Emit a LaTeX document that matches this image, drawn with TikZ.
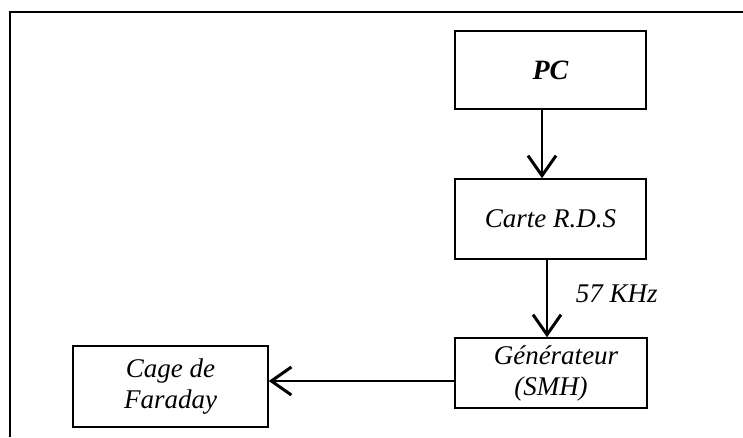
\documentclass[tikz,border=0pt]{standalone}
\usepackage{fontspec}
\setmainfont{Liberation Serif}
\usetikzlibrary{arrows.meta}
\begin{document}
\begin{tikzpicture}[x=1pt,y=-1pt,
  blk/.style={draw,line width=1.5pt,minimum width=191pt,align=center,font=\fontsize{27}{31}\selectfont\itshape,inner sep=0pt},
  conn/.style={line width=1.1pt,-{Straight Barb[length=20pt,width=28pt,line width=3pt]}}]
\useasboundingbox (0,0) rectangle (743,437);
\draw[line width=1.5pt] (10,437) -- (10,12) -- (743,12);
\node[blk,minimum height=78pt,font=\fontsize{28}{31}\selectfont\itshape\bfseries] (pc) at (550.5,70) {PC};
\node[blk,minimum height=80pt] (rds) at (550.5,219) {Carte R.D.S};
\node[blk,minimum height=70pt,minimum width=192pt] (gen) at (551,373) {\hspace*{10pt}Générateur\\(SMH)};
\node[blk,minimum height=81pt,minimum width=195pt] (cage) at (170.5,386.5) {Cage de\\Faraday};
\draw[conn] (pc.south -| 542,0) -- (rds.north -| 542,0);
\draw[conn] (rds.south -| 547,0) -- node[right=25pt,yshift=5pt,font=\fontsize{27}{31}\selectfont\itshape] (lbl) {57 KHz} (gen.north -| 547,0);
\draw[conn] (gen.west |- 0,381) -- (cage.east |- 0,381);
\end{tikzpicture}
\end{document}
